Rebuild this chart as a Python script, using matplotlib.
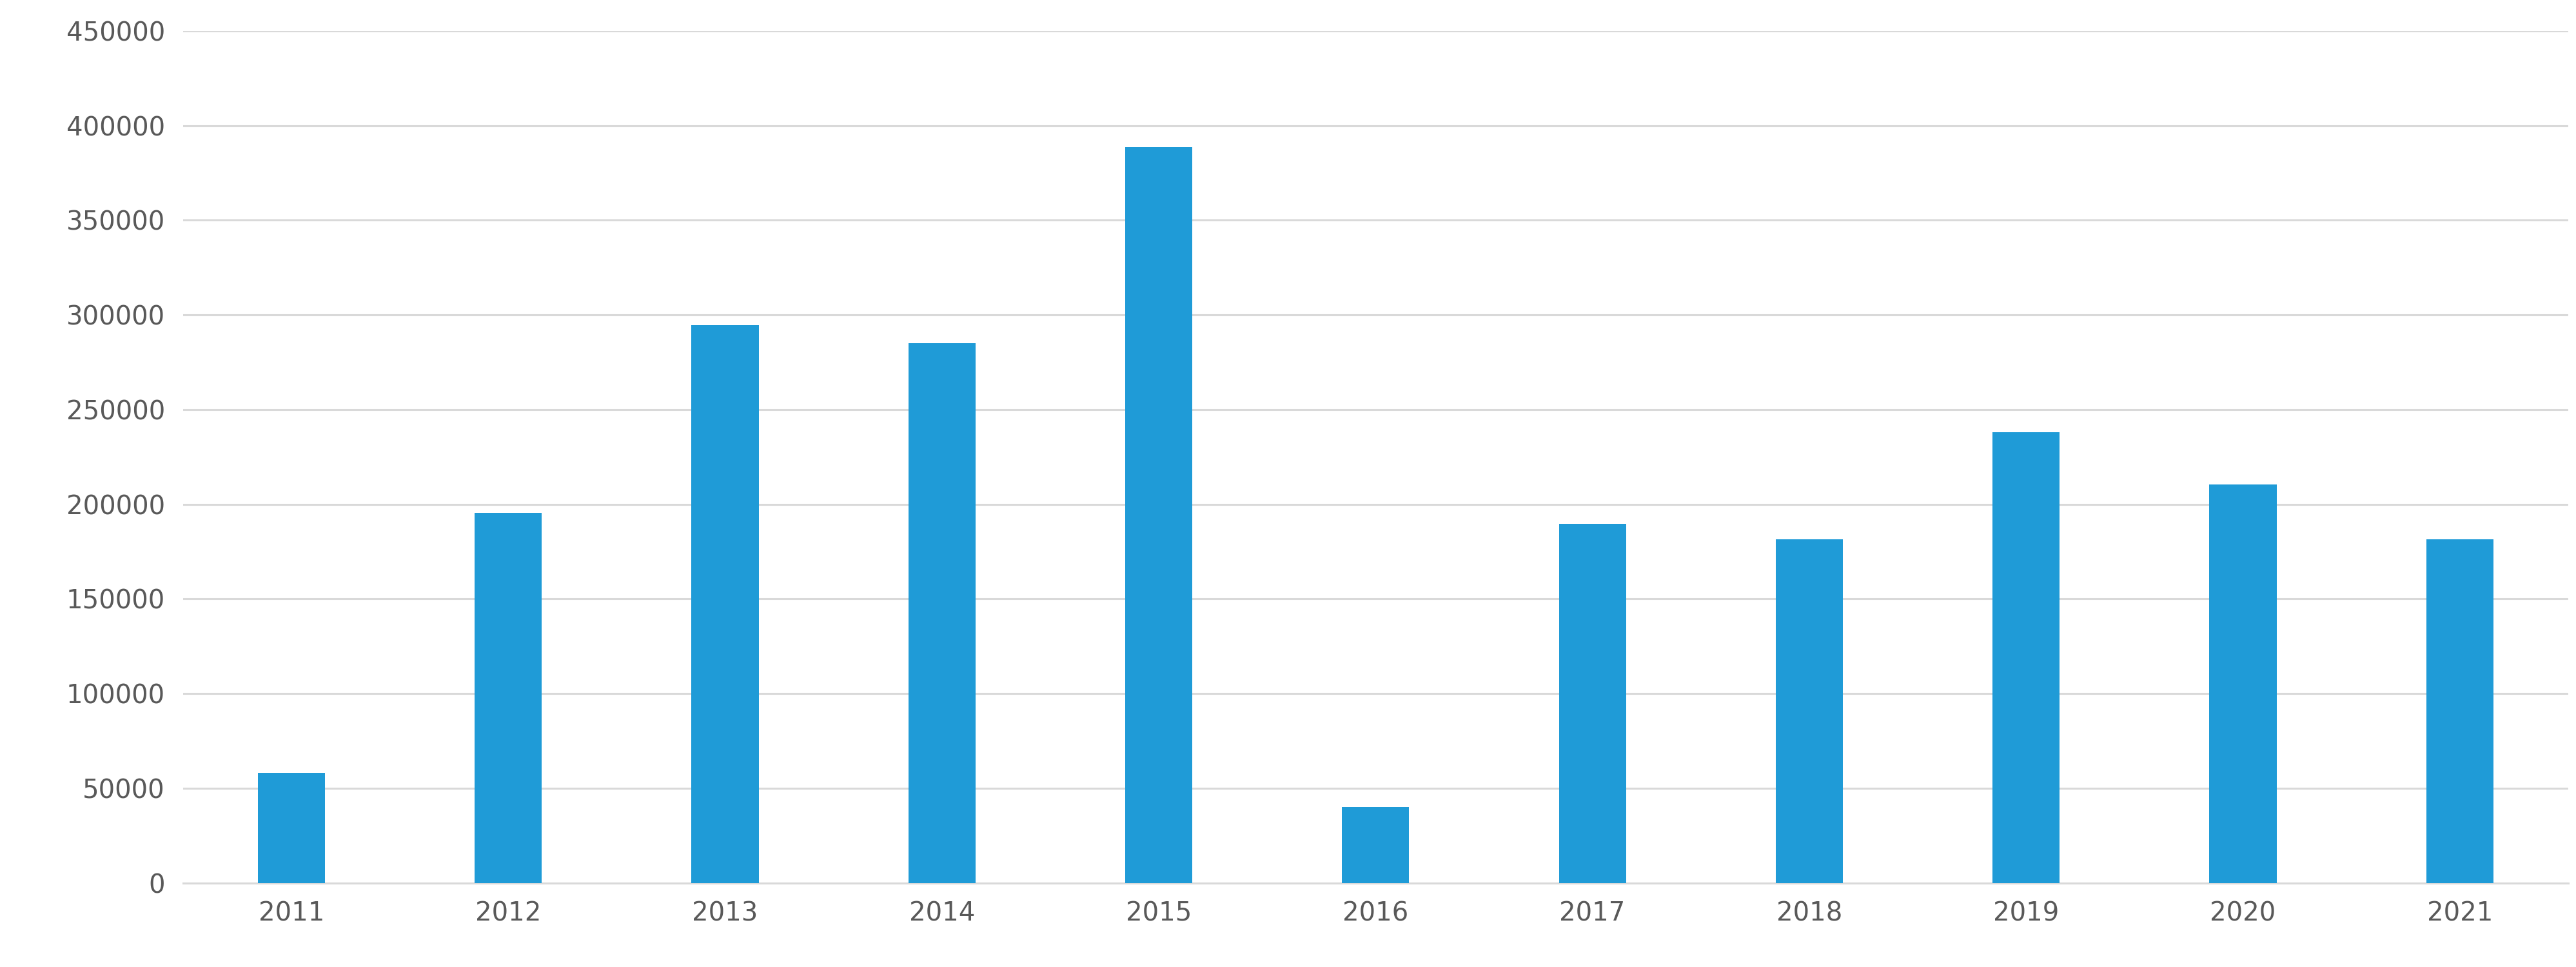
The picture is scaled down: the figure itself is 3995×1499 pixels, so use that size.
import matplotlib
matplotlib.use("Agg")
import matplotlib.pyplot as plt
import numpy as np

years = ["2011", "2012", "2013", "2014", "2015", "2016", "2017", "2018", "2019", "2020", "2021"]
values = [58000, 195500, 294500, 285000, 388500, 40000, 189500, 181500, 238000, 210500, 181500]
yticks = np.arange(0, 450001, 50000)

fig = plt.figure(figsize=(39.95, 14.99), dpi=100)
ax = fig.add_axes([0.071, 0.087, 0.926, 0.881])

x = np.arange(len(years))
ax.bar(x, values, width=0.31, color="#1F9BD7", zorder=3)

ax.set_xlim(-0.5, len(years) - 0.5)
ax.set_ylim(0, 450000)
ax.set_yticks(yticks)
ax.set_yticklabels([str(v) for v in yticks])
ax.set_xticks(x)
ax.set_xticklabels(years)
ax.grid(axis="y", color="#D9D9D9", linewidth=2.2, zorder=0)
for s in ["top", "right", "left"]:
    ax.spines[s].set_visible(False)
ax.spines["bottom"].set_color("#D9D9D9")
ax.spines["bottom"].set_linewidth(2.2)
ax.tick_params(length=0, labelsize=29, labelcolor="#595959", pad=20)

fig.savefig("out.png", dpi=100)
